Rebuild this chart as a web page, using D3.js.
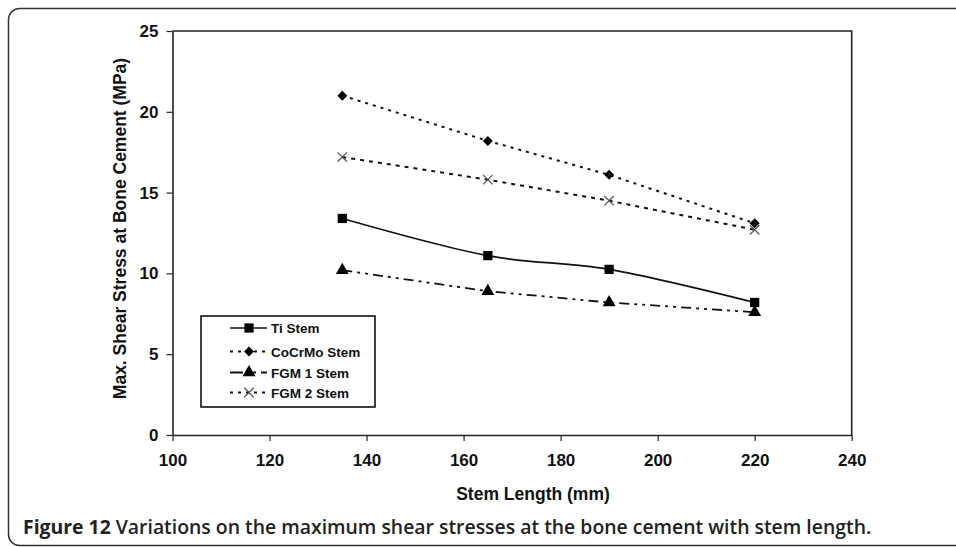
<!DOCTYPE html>
<html>
<head>
<meta charset="utf-8">
<script src="https://cdn.jsdelivr.net/npm/d3@7"></script>
<style>
  html, body { margin: 0; padding: 0; background: #fff; }
  svg { display: block; }
</style>
</head>
<body>
<svg id="chart" width="956" height="547"></svg>
<script>
// ---- data ----
const stemLengths = [135, 165, 190, 220];
const tiStem = [13.4, 11.1, 10.25, 8.2];
const cocrmoStem = [21.0, 18.2, 16.1, 13.1];
const fgm1Stem = [10.2, 8.9, 8.2, 7.6];
const fgm2Stem = [17.2, 15.8, 14.5, 12.7];
const seriesNames = ["Ti Stem", "CoCrMo Stem", "FGM 1 Stem", "FGM 2 Stem"];
const xTicks = [100, 120, 140, 160, 180, 200, 220, 240];
const yTicks = [0, 5, 10, 15, 20, 25];
const xTitle = "Stem Length (mm)";
const yTitle = "Max. Shear Stress at Bone Cement (MPa)";
const captionBold = "Figure 12";
const captionRest = " Variations on the maximum shear stresses at the bone cement with stem length.";

const svg = d3.select("#chart");

// outer rounded border (open on the right)
svg.append("rect")
  .attr("x", 8.5).attr("y", 8.5)
  .attr("width", 1000).attr("height", 537)
  .attr("rx", 11).attr("ry", 11)
  .attr("fill", "none").attr("stroke", "#333").attr("stroke-width", 1.5);

const pLeft = 172.5, pRight = 851.7, pTop = 31, pBottom = 435;
const x = d3.scaleLinear().domain([100, 240]).range([pLeft, pRight]);
const y = d3.scaleLinear().domain([0, 25]).range([pBottom, pTop]);

const font = "'Liberation Sans', Arial, sans-serif";

// frame (top & right)
svg.append("path")
  .attr("d", `M${pLeft},${pTop}H${pRight}V${pBottom}`)
  .attr("fill", "none").attr("stroke", "#222").attr("stroke-width", 1.6);

// axes
const xAxis = svg.append("g").attr("transform", `translate(0,${pBottom})`)
  .call(d3.axisBottom(x).tickValues(xTicks).tickSize(6).tickPadding(13).tickSizeOuter(0));
const yAxis = svg.append("g").attr("transform", `translate(${pLeft},0)`)
  .call(d3.axisLeft(y).tickValues(yTicks).tickSize(6).tickPadding(8).tickSizeOuter(0));
[xAxis, yAxis].forEach(g => {
  g.select(".domain").attr("stroke", "#222").attr("stroke-width", 1.6);
  g.selectAll(".tick line").attr("stroke", "#222").attr("stroke-width", 1.2);
  g.selectAll(".tick text")
    .attr("fill", "#111")
    .style("font-family", font).style("font-weight", "bold").style("font-size", "17px");
});

// axis titles
svg.append("text")
  .attr("x", 533).attr("y", 500)
  .attr("text-anchor", "middle")
  .style("font-family", font).style("font-weight", "bold").style("font-size", "17.5px")
  .attr("fill", "#111").text(xTitle);
svg.append("text")
  .attr("transform", `translate(126,228.5) rotate(-90)`)
  .attr("text-anchor", "middle")
  .style("font-family", font).style("font-weight", "bold").style("font-size", "17.5px")
  .attr("fill", "#111").text(yTitle);

// series definitions
const series = [
  { name: seriesNames[0], values: tiStem, dash: null, legDash: null, curve: d3.curveCardinal.tension(0), marker: "square", width: 1.7 },
  { name: seriesNames[1], values: cocrmoStem, dash: "3,5", legDash: "3,5", curve: d3.curveLinear, marker: "diamond", width: 2 },
  { name: seriesNames[2], values: fgm1Stem, dash: "10,5,3,5,3,5", legDash: "13,10,3,5,6", curve: d3.curveLinear, marker: "triangle", width: 1.8 },
  { name: seriesNames[3], values: fgm2Stem, dash: "4,5", legDash: "3,5", curve: d3.curveLinear, marker: "cross", width: 2 },
];

const symbolGen = {
  square: d3.symbol().type(d3.symbolSquare).size(85),
  diamond: d3.symbol().type(d3.symbolSquare).size(50),
  triangle: d3.symbol().type(d3.symbolTriangle).size(72),
  cross: d3.symbol().type(d3.symbolX).size(60),
};

function drawMarker(g, type, cx, cy) {
  const p = g.append("path").attr("d", symbolGen[type]())
    .attr("transform", `translate(${cx},${cy})` + (type === "diamond" ? " rotate(45)" : ""));
  if (type === "cross") {
    p.attr("fill", "none").attr("stroke", "#555").attr("stroke-width", 1.2);
  } else {
    p.attr("fill", "#000");
  }
}

const line = d3.line();
series.forEach(s => {
  const pts = stemLengths.map((d, i) => [x(d), y(s.values[i])]);
  svg.append("path")
    .attr("d", line.curve(s.curve)(pts))
    .attr("fill", "none").attr("stroke", "#111")
    .attr("stroke-width", s.width)
    .attr("stroke-dasharray", s.dash);
  const g = svg.append("g");
  pts.forEach(p => drawMarker(g, s.marker, p[0], p[1]));
});

// legend
const lg = svg.append("g");
lg.append("rect").attr("x", 201).attr("y", 316).attr("width", 174).attr("height", 91)
  .attr("fill", "#fff").attr("stroke", "#111").attr("stroke-width", 1.6);
const legY = [328, 351.5, 372.5, 392.5];
series.forEach((s, i) => {
  const ly = legY[i];
  lg.append("line").attr("x1", 230).attr("x2", 267).attr("y1", ly).attr("y2", ly)
    .attr("stroke", "#111").attr("stroke-width", s.width)
    .attr("stroke-dasharray", s.legDash);
  drawMarker(lg, s.marker, 249, ly);
  lg.append("text").attr("x", 271).attr("y", ly + 5)
    .style("font-family", font).style("font-weight", "bold").style("font-size", "13.5px")
    .attr("fill", "#111").text(s.name);
});

// caption
const cap = svg.append("text").attr("x", 23).attr("y", 534)
  .style("font-family", "'Open Sans', 'Noto Sans', sans-serif").style("font-size", "19.4px")
  .attr("fill", "#222");
cap.append("tspan").style("font-weight", "bold").text(captionBold);
cap.append("tspan").style("font-weight", "600").text(captionRest);
</script>
</body>
</html>
